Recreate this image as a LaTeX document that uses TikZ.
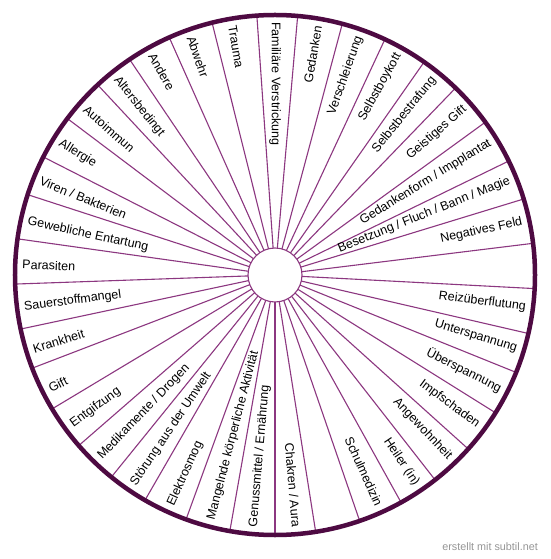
\documentclass[tikz,border=0pt]{standalone}
\usepackage{fontspec}
\setmainfont{Liberation Sans}
\definecolor{spokec}{RGB}{140,55,128}
\definecolor{rimc}{RGB}{78,10,66}
\definecolor{creditc}{RGB}{150,150,150}
\begin{document}
\begin{tikzpicture}[x=1pt,y=1pt,
  spokeline/.style={draw=spokec, line width=1.1pt},
  lbl/.style={inner sep=0pt, font=\fontsize{12.5}{14}\selectfont, text=black}]
\useasboundingbox (-275,-284) rectangle (275,275);
\fill[white] (-275,-284) rectangle (275,275);
\node[circle, inner sep=0pt, outer sep=0pt, minimum size=520pt] (rim) at (0,0) {};
\node[circle, inner sep=0pt, outer sep=0pt, minimum size=54pt, draw=spokec, line width=1.1pt, fill=white] (hub) at (0,0) {};
\foreach \k in {0,...,36}{
  \pgfmathsetmacro\a{mod(270+\k*360/37,360)}
  \draw[spokeline] (hub.\a) -- (rim.\a);
}
\draw[draw=rimc, line width=4.5pt] (rim.center) circle (260pt);
\foreach \i/\t in {0/{Familiäre Verstrickung}, 1/{Gedanken}, 2/{Verschleierung}, 3/{Selbstboykott},
  4/{Selbstbestrafung}, 5/{Geistiges Gift}, 6/{Gedankenform / Impplantat},
  7/{Besetzung / Fluch / Bann / Magie}, 8/{Negatives Feld}, 10/{Reizüberflutung},
  11/{Unterspannung}, 12/{Überspannung}, 13/{Impfschaden}, 14/{Angewohnheit},
  15/{Heiler (in)}, 16/{Schulmedizin}, 18/{Chakren / Aura}, 19/{Genussmittel / Ernährung},
  20/{Mangelnde körperliche Aktivität}, 21/{Elektrosmog}, 22/{Störung aus der Umwelt},
  23/{Medikamente / Drogen}, 24/{Entgifzung}, 25/{Gift}, 26/{Krankheit}, 27/{Sauerstoffmangel},
  28/{Parasiten}, 29/{Gewebliche Entartung}, 30/{Viren / Bakterien}, 31/{Allergie},
  32/{Autoimmun}, 33/{Altersbedingt}, 34/{Andere}, 35/{Abwehr}, 36/{Trauma}}{
  \pgfmathsetmacro\a{90-360/37*\i}
  \pgfmathsetmacro\b{\a+180}
  \ifnum\i<19
    \ifnum\i>0
      \node[lbl, rotate=\a, anchor=east] (t\i) at (\a:253) {\t};
    \else
      \node[lbl, rotate=\b, anchor=west] (t\i) at (\a:253) {\t};
    \fi
  \else
    \node[lbl, rotate=\b, anchor=west] (t\i) at (\a:253) {\t};
  \fi
}
\node[anchor=east, inner sep=0pt, text=creditc, font=\fontsize{10.8}{12}\selectfont] (credit) at (263,-272) {erstellt mit subtil.net};
\end{tikzpicture}
\end{document}
